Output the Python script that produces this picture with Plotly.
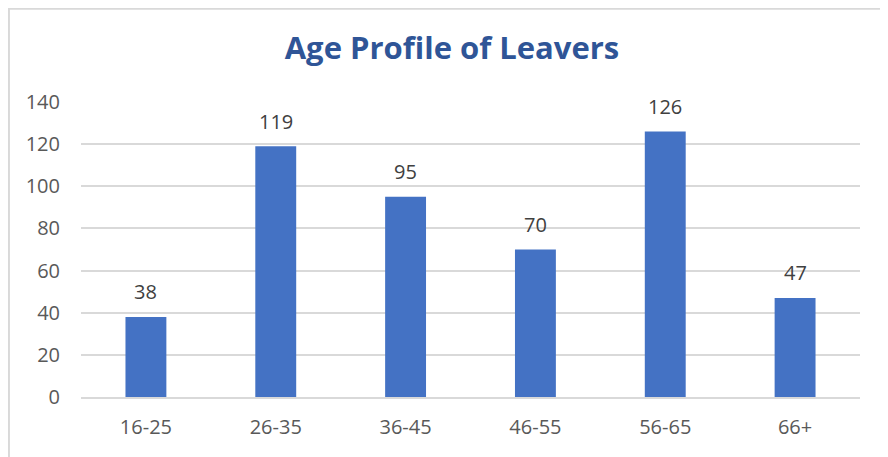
import plotly.graph_objects as go

age_bands = ["16-25", "26-35", "36-45", "46-55", "56-65", "66+"]
leavers = [38, 119, 95, 70, 126, 47]
y_ticks = [0, 20, 40, 60, 80, 100, 120, 140]

font_name = "Open Sans"

fig = go.Figure()
fig.add_trace(go.Bar(x=age_bands, y=leavers, marker=dict(color="#4472C4", line=dict(width=0)),
                     hoverinfo="x+y"))

# value labels above bars, Excel-style gap
for band, val in zip(age_bands, leavers):
    fig.add_annotation(x=band, y=val, text=str(val), showarrow=False, yanchor="middle",
                       yshift=25, font=dict(family=font_name, size=20, color="#404040"))

# chart border (page has an 8px body margin)
fig.add_shape(type="rect", xref="paper", yref="paper", x0=-0.0925, x1=1.0315, y0=-0.3, y1=1.316,
              line=dict(color="#D9D9D9", width=2), fillcolor="rgba(0,0,0,0)", layer="below")

fig.update_layout(
    title=dict(text="<b>Age Profile of Leavers</b>", x=0.5, xanchor="center", y=0.912, yanchor="middle",
               font=dict(family=font_name, size=31, color="#2F5597")),
    width=888, height=457,
    margin=dict(l=73, r=36, t=94, b=68),
    paper_bgcolor="white", plot_bgcolor="white",
    bargap=0.685,
    showlegend=False,
    font=dict(family=font_name, size=20, color="#595959"),
)
fig.update_xaxes(showline=True, linecolor="#D9D9D9", linewidth=1.5, ticks="", showgrid=False,
                 ticklabelstandoff=11, tickfont=dict(size=20, color="#595959"))
fig.update_yaxes(range=[0, 140], tickvals=y_ticks, showgrid=True, gridcolor="#D9D9D9", gridwidth=1.5,
                 zeroline=False, ticks="", ticklabelstandoff=20,
                 tickfont=dict(size=20, color="#595959"))

fig.write_html("out.html")
